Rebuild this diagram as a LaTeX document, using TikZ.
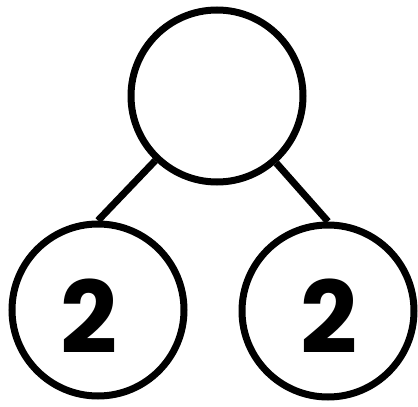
\documentclass[tikz,border=0pt]{standalone}
\usepackage{fontspec}
\setmainfont{Poppins}
\usetikzlibrary{calc}
\tikzset{
  ball/.style={draw, circle, line width=7pt, minimum size=172pt, inner sep=0pt},
  digit/.style={font=\fontsize{100}{100}\selectfont\bfseries, inner sep=0pt},
  link/.style={line width=7pt},
}

\begin{document}
\begin{tikzpicture}[x=1pt, y=-1pt]
    \useasboundingbox (0,0) rectangle (418,407);
    \node[ball] (top) at (217,96) {};
    \node[ball] (left) at (98,310) {};
    \node[ball] (right) at (328,311) {};
    \node[digit] (lnum) at (89,316) {2};
    \node[digit] (rnum) at (329,316) {2};
    \draw[link] (top) -- (left.north);
    \draw[link] (top) -- (right.north);
  \end{tikzpicture}
\end{document}
